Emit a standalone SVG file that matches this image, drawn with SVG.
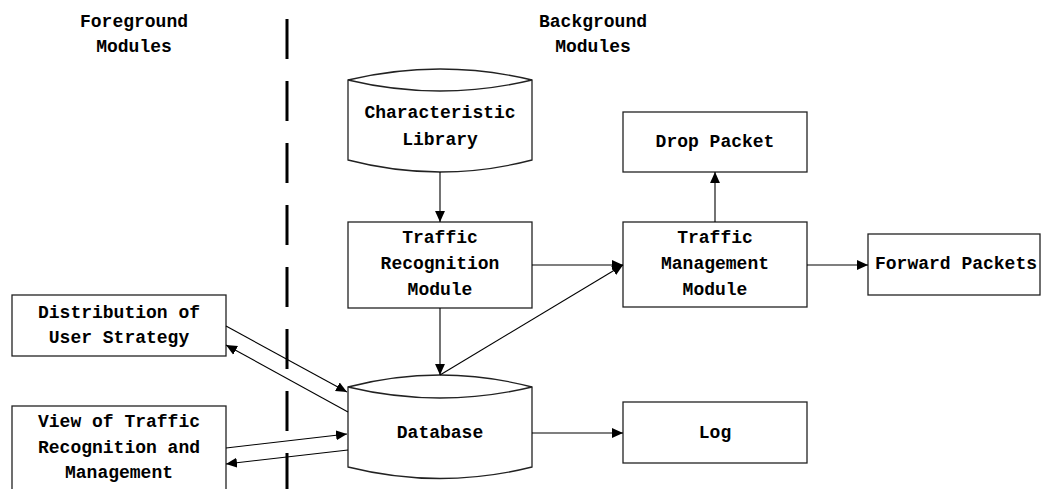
<svg xmlns="http://www.w3.org/2000/svg" width="1044" height="489" viewBox="0 0 1044 489">
<style>
.box{fill:#fff;stroke:#222;stroke-width:1.3}
.t{font-family:"Liberation Mono","DejaVu Sans Mono",monospace;font-size:18px;font-weight:bold;fill:#000;text-anchor:middle;dominant-baseline:central}
.c{fill:none;stroke:#000;stroke-width:1.1;marker-end:url(#ah)}
</style>
<defs>
<marker id="ah" viewBox="0 0 10 10" refX="10" refY="5" markerWidth="11" markerHeight="11" markerUnits="userSpaceOnUse" orient="auto">
<path d="M0,0.5 L10,5 L0,9.5 z" fill="#000"/>
</marker>
</defs>
<rect width="1044" height="489" fill="#fff"/>
<line x1="287" y1="19" x2="287" y2="489" stroke="#000" stroke-width="3" stroke-dasharray="40 22"/>
<g id="title-fg"><text class="t" x="134" y="22">Foreground</text><text class="t" x="134" y="47">Modules</text></g>
<g id="title-bg"><text class="t" x="593" y="22">Background</text><text class="t" x="593" y="47">Modules</text></g>
<g id="char-lib">
<path class="box" d="M348,80 Q440,58 532,80 L532,160 Q440,184 348,160 Z"/>
<path class="box" d="M348,80 Q440,102 532,80" fill="none"/>
<text class="t" x="440" y="113">Characteristic</text><text class="t" x="440" y="140">Library</text>
</g>
<g id="traffic-recog">
<rect class="box" x="348" y="222" width="184" height="86"/>
<text class="t" x="440" y="238">Traffic</text><text class="t" x="440" y="264">Recognition</text><text class="t" x="440" y="290">Module</text>
</g>
<g id="traffic-mgmt">
<rect class="box" x="623" y="222" width="184" height="85"/>
<text class="t" x="715" y="238">Traffic</text><text class="t" x="715" y="264">Management</text><text class="t" x="715" y="290">Module</text>
</g>
<g id="drop-packet">
<rect class="box" x="623" y="112" width="184" height="60"/>
<text class="t" x="715" y="142">Drop Packet</text>
</g>
<g id="forward-packets">
<rect class="box" x="868" y="234" width="172" height="61"/>
<text class="t" x="956" y="264">Forward Packets</text>
</g>
<g id="database">
<path class="box" d="M348,387 Q440,363 532,387 L532,467 Q440,490 348,467 Z"/>
<path class="box" d="M348,387 Q440,409 532,387" fill="none"/>
<text class="t" x="440" y="433">Database</text>
</g>
<g id="log">
<rect class="box" x="623" y="402" width="184" height="61"/>
<text class="t" x="715" y="433">Log</text>
</g>
<g id="distribution">
<rect class="box" x="12" y="295" width="214" height="61"/>
<text class="t" x="119" y="313">Distribution of</text><text class="t" x="119" y="338">User Strategy</text>
</g>
<g id="view">
<rect class="box" x="12" y="406" width="214" height="95"/>
<text class="t" x="119" y="422">View of Traffic</text><text class="t" x="119" y="448">Recognition and</text><text class="t" x="119" y="473">Management</text>
</g>
<g id="connectors">
<line class="c" x1="440" y1="172" x2="440" y2="222"/>
<line class="c" x1="532" y1="265" x2="623" y2="265"/>
<line class="c" x1="440" y1="308" x2="440" y2="375"/>
<line class="c" x1="440" y1="375" x2="623" y2="265"/>
<line class="c" x1="715" y1="222" x2="715" y2="172"/>
<line class="c" x1="807" y1="265" x2="868" y2="265"/>
<line class="c" x1="532" y1="433" x2="623" y2="433"/>
<line class="c" x1="226" y1="326" x2="347" y2="392"/>
<line class="c" x1="348" y1="412" x2="226" y2="345"/>
<line class="c" x1="226" y1="448" x2="347" y2="434"/>
<line class="c" x1="348" y1="450" x2="226" y2="464"/>
</g>
</svg>
